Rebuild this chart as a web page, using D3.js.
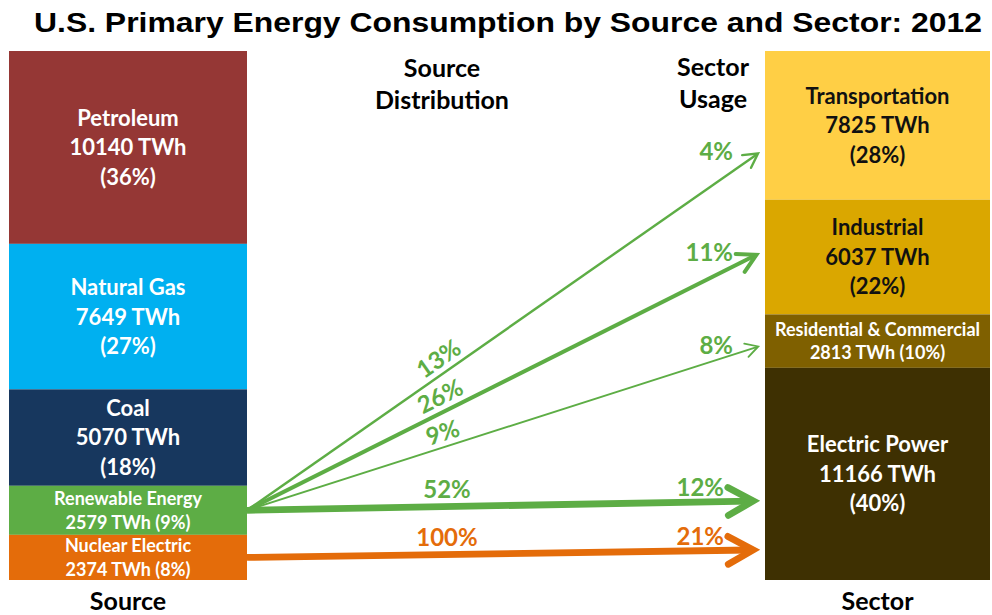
<!DOCTYPE html>
<html>
<head>
<meta charset="utf-8">
<script src="https://cdn.jsdelivr.net/npm/d3@7"></script>
<style>
  body { margin: 0; background: #fff; }
  text { font-family: Lato, "Open Sans", sans-serif; font-weight: bold; }
</style>
</head>
<body>
<svg id="chart" width="992" height="615"></svg>
<script>
// ---- data ----
const sources    = ["Petroleum", "Natural Gas", "Coal", "Renewable Energy", "Nuclear Electric"];
const sourceTWh  = [10140, 7649, 5070, 2579, 2374];
const sourcePct  = [36, 27, 18, 9, 8];

const sectors    = ["Transportation", "Industrial", "Residential & Commercial", "Electric Power"];
const sectorTWh  = [7825, 6037, 2813, 11166];
const sectorPct  = [28, 22, 10, 40];

// flows: share of the source that goes to a sector, and the share of that sector it supplies
const flowFrom          = ["Renewable Energy", "Renewable Energy", "Renewable Energy", "Renewable Energy", "Nuclear Electric"];
const flowTo            = ["Transportation", "Industrial", "Residential & Commercial", "Electric Power", "Electric Power"];
const flowShareOfSource = [13, 26, 9, 52, 100];
const flowShareOfSector = [4, 11, 8, 12, 21];

// ---- styling / layout ----
const sourceColors = ["#953735", "#00B0F0", "#17375E", "#5DAD45", "#E46C0A"];
const sectorColors = ["#FFCF45", "#DAA700", "#7F6000", "#3E3002"];
const sectorText   = ["#111", "#111", "#fff", "#fff"];
const flowColors   = ["#5DAD45", "#5DAD45", "#5DAD45", "#5DAD45", "#E46C0A"];
// where each arrow lands inside its sector block (fraction of block height)
const arrowLanding = [0.68, 0.465, 0.59, 0.627, 0.858];

const colTop = 51, colBottom = 580;
const leftX = [9, 247], rightX = [765, 990];

const svg = d3.select("#chart");

svg.append("text")
  .attr("x", 508).attr("y", 32)
  .attr("text-anchor", "middle")
  .attr("textLength", 948)
  .attr("lengthAdjust", "spacingAndGlyphs")
  .style("font-family", "'Liberation Sans', Arial, sans-serif")
  .style("font-size", "28px")
  .attr("fill", "#000")
  .text("U.S. Primary Energy Consumption by Source and Sector: 2012");

// ---- stacked columns ----
function stackBlocks(names, values) {
  const starts = [0, ...d3.cumsum(values)].slice(0, values.length);
  return names.map((n, i) => ({ name: n, value: values[i], start: starts[i], i }));
}
const srcBlocks = stackBlocks(sources, sourceTWh);
const secBlocks = stackBlocks(sectors, sectorTWh);

const yL = d3.scaleLinear().domain([0, d3.sum(sourceTWh)]).range([colTop, colBottom]);
const yR = d3.scaleLinear().domain([0, d3.sum(sectorTWh)]).range([colTop, colBottom]);

function drawColumn(blocks, y, xr, colors, textColors, pcts) {
  const g = svg.append("g");
  g.selectAll("rect").data(blocks).join("rect")
    .attr("x", xr[0])
    .attr("width", xr[1] - xr[0])
    .attr("y", d => y(d.start))
    .attr("height", d => y(d.start + d.value) - y(d.start))
    .attr("fill", d => colors[d.i]);

  const cx = (xr[0] + xr[1]) / 2;
  blocks.forEach(d => {
    const y0 = y(d.start), y1 = y(d.start + d.value);
    const mid = (y0 + y1) / 2;
    const compact = (y1 - y0) < 75;
    const lines = compact
      ? [d.name, `${d.value} TWh (${pcts[d.i]}%)`]
      : [d.name, `${d.value} TWh`, `(${pcts[d.i]}%)`];
    const fs = compact ? 18 : 22;
    const lh = compact ? 23.5 : 29.5;
    const t = g.append("text")
      .attr("text-anchor", "middle")
      .attr("fill", textColors[d.i])
      .style("font-size", fs + "px");
    lines.forEach((s, k) => {
      t.append("tspan")
        .attr("x", cx)
        .attr("y", mid + (k - (lines.length - 1) / 2) * lh + fs * 0.36)
        .text(s);
    });
  });
}
drawColumn(srcBlocks, yL, leftX, sourceColors, sources.map(() => "#fff"), sourcePct);
drawColumn(secBlocks, yR, rightX, sectorColors, sectorText, sectorPct);

// ---- headers ----
function header(lines, x, y0, lh) {
  const t = svg.append("text").attr("text-anchor", "middle").attr("fill", "#000").style("font-size", "25px");
  lines.forEach((s, k) => t.append("tspan").attr("x", x).attr("y", y0 + k * lh).text(s));
}
header(["Source", "Distribution"], 442, 77, 32);
header(["Sector", "Usage"], 713, 76, 32);
header(["Source"], (leftX[0] + leftX[1]) / 2, 610, 0);
header(["Sector"], (rightX[0] + rightX[1]) / 2, 610, 0);

// ---- flow arrows ----
const widthScale = d3.scalePow().exponent(0.75).domain([0, 52]).range([0, 6.8]).clamp(true);
const arrowEndX = rightX[0] - 5;
const midLabelX = 447;

flowFrom.forEach((from, i) => {
  const s = srcBlocks.find(b => b.name === from);
  const t = secBlocks.find(b => b.name === flowTo[i]);
  const x0 = leftX[1];
  const y0 = yL(s.start + s.value / 2);
  const y1 = yR(t.start + t.value * arrowLanding[i]);
  const w = widthScale(flowShareOfSource[i]);
  const ang = Math.atan2(y1 - y0, arrowEndX - x0);
  const ca = Math.cos(ang), sa = Math.sin(ang);
  // tip point pulled back so the mitred apex lands at arrowEndX
  const tipX = arrowEndX - ca * w, tipY = y1 - sa * w;
  const color = flowColors[i];

  const g = svg.append("g").attr("stroke", color).attr("fill", "none");
  g.append("line")
    .attr("x1", x0).attr("y1", y0)
    .attr("x2", tipX - ca * w * 0.5).attr("y2", tipY - sa * w * 0.5)
    .attr("stroke-width", w);

  const L = 9 + 2.9 * w, half = Math.PI / 6.2;
  const a1 = ang + Math.PI - half, a2 = ang + Math.PI + half;
  g.append("path")
    .attr("d", d3.line()([
      [tipX + L * Math.cos(a1), tipY + L * Math.sin(a1)],
      [tipX, tipY],
      [tipX + L * Math.cos(a2), tipY + L * Math.sin(a2)]
    ]))
    .attr("stroke-width", w)
    .attr("stroke-linecap", "round")
    .attr("stroke-linejoin", "miter");

  const angled = Math.abs(ang) > 0.05;
  const deg = angled ? ang * 180 / Math.PI : 0;

  // share of the source, written along the line
  const mx = midLabelX, my = y0 + (mx - x0) * Math.tan(ang);
  svg.append("text")
    .attr("transform", `translate(${mx},${my}) rotate(${deg})`)
    .attr("text-anchor", "middle")
    .attr("y", -(w / 2 + 5))
    .attr("fill", color)
    .style("font-size", "24px")
    .text(flowShareOfSource[i] + "%");

  // share of the sector, next to the arrow head
  const end = svg.append("text")
    .attr("text-anchor", "end")
    .attr("fill", color)
    .style("font-size", "24px")
    .text(flowShareOfSector[i] + "%");
  if (angled) {
    end.attr("x", arrowEndX - 27).attr("y", y1 + 8);
  } else {
    end.attr("x", arrowEndX - 36).attr("y", y1 - w / 2 - 1);
  }
});
</script>
</body>
</html>
